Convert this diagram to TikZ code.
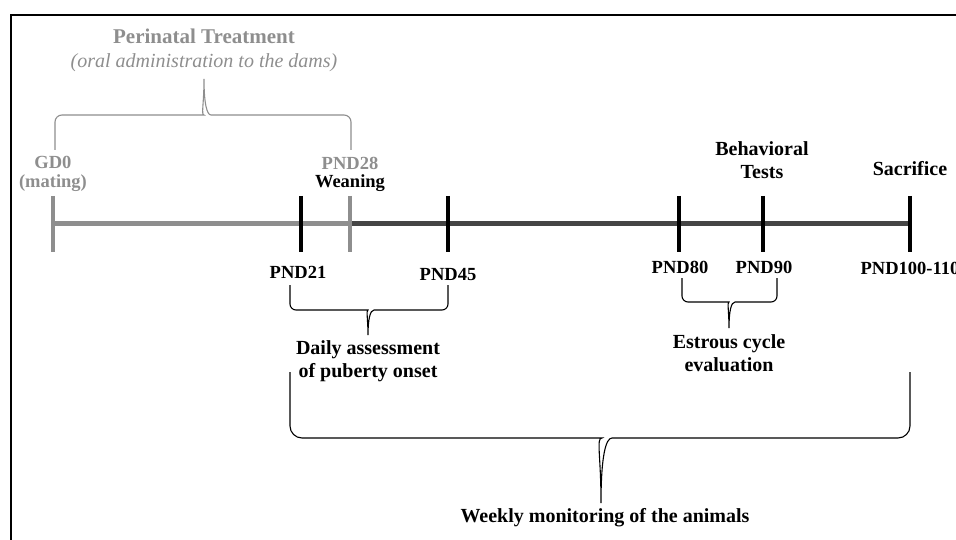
\documentclass[tikz,border=0pt]{standalone}
\usepackage{fontspec}
\setmainfont{Liberation Serif}
\usetikzlibrary{positioning}
\definecolor{treatgray}{HTML}{8E8E8E}
\definecolor{axisdark}{HTML}{454545}

\begin{document}
\begin{tikzpicture}[x=1pt,y=-1pt,
  lbl/.style={font=\bfseries\fontsize{20}{23}\selectfont,anchor=base,inner sep=0pt,align=center},
  pnd/.style={lbl,font=\bfseries\fontsize{18.5}{19}\selectfont},
  tick/.style={line width=4pt},
  curly/.style={line width=1.1pt}]
\useasboundingbox (0,0) rectangle (956,540);
\clip (0,0) rectangle (956,540);
\draw[line width=1.5pt] (11,15) rectangle (980,570);

% time points on the axis
\coordinate (gd0) at (53,224);
\coordinate (p21) at (301,224);
\coordinate (p28) at (350,224);
\coordinate (p45) at (448,224);
\coordinate (p80) at (679,224);
\coordinate (p90) at (763,224);
\coordinate (p100) at (910,224);

\draw[line width=5pt,treatgray] (gd0) -- (p28);
\draw[line width=5pt,axisdark] (p28) -- (p100);
\foreach \t in {gd0,p28} \draw[tick,treatgray] ([yshift=28pt]\t) -- ([yshift=-28pt]\t);
\foreach \t in {p21,p45,p80,p90,p100} \draw[tick] ([yshift=28pt]\t) -- ([yshift=-28pt]\t);

% labels above the axis (base = last line)
\node[lbl,treatgray,font=\bfseries\fontsize{21}{25}\selectfont] (treat) at (204,44) {Perinatal Treatment};
\node[lbl,treatgray,font=\itshape\fontsize{20}{24}\selectfont] (oral) at (204,68) {(oral administration to the dams)};
\node[pnd,treatgray] (gd0lbl) at (53,188) {GD0\\(mating)};
\node[pnd,treatgray] (p28lbl) at (350,169.5) {PND28};
\node[pnd] (wean) at (350,188) {Weaning};
\node[lbl] (behav) at (762,179) {Behavioral\\Tests};
\node[lbl] (sacr) at (910,176) {Sacrifice};

% labels below the axis
\node[pnd] (l21) at (298,279) {PND21};
\node[pnd] (l45) at (448,280) {PND45};
\node[pnd] (l80) at (680,273) {PND80};
\node[pnd] (l90) at (764,273) {PND90};
\node[pnd] (l100) at (910,275) {PND100-110};
\node[lbl] (daily) at (368,377) {Daily assessment\\of puberty onset};
\node[lbl] (estr) at (729,371) {Estrous cycle\\evaluation};
\node[lbl] (week) at (605,522) {Weekly monitoring of the animals};

% braces
\draw[curly,treatgray] (55,150) [rounded corners=7pt] |- (197,115) [sharp corners]
  .. controls (201,115) and (204,104) .. (204,79)
  .. controls (204,104) and (207,115) .. (211,115) [rounded corners=7pt] -| (351,150);
\draw[curly] (290,285) [rounded corners=6pt] |- (362,310) [sharp corners]
  .. controls (366,310) and (368,320) .. (368,335)
  .. controls (368,320) and (370,310) .. (374,310) [rounded corners=6pt] -| (448,285);
\draw[curly] (682,278) [rounded corners=6pt] |- (723,302) [sharp corners]
  .. controls (727,302) and (729,312) .. (729,328)
  .. controls (729,312) and (731,302) .. (735,302) [rounded corners=6pt] -| (777,278);
\draw[curly] (290,372) [rounded corners=12pt] |- (590,438) [sharp corners]
  .. controls (596,438) and (601,455) .. (601,503)
  .. controls (601,455) and (606,438) .. (612,438) [rounded corners=12pt] -| (910,372);
\end{tikzpicture}
\end{document}
